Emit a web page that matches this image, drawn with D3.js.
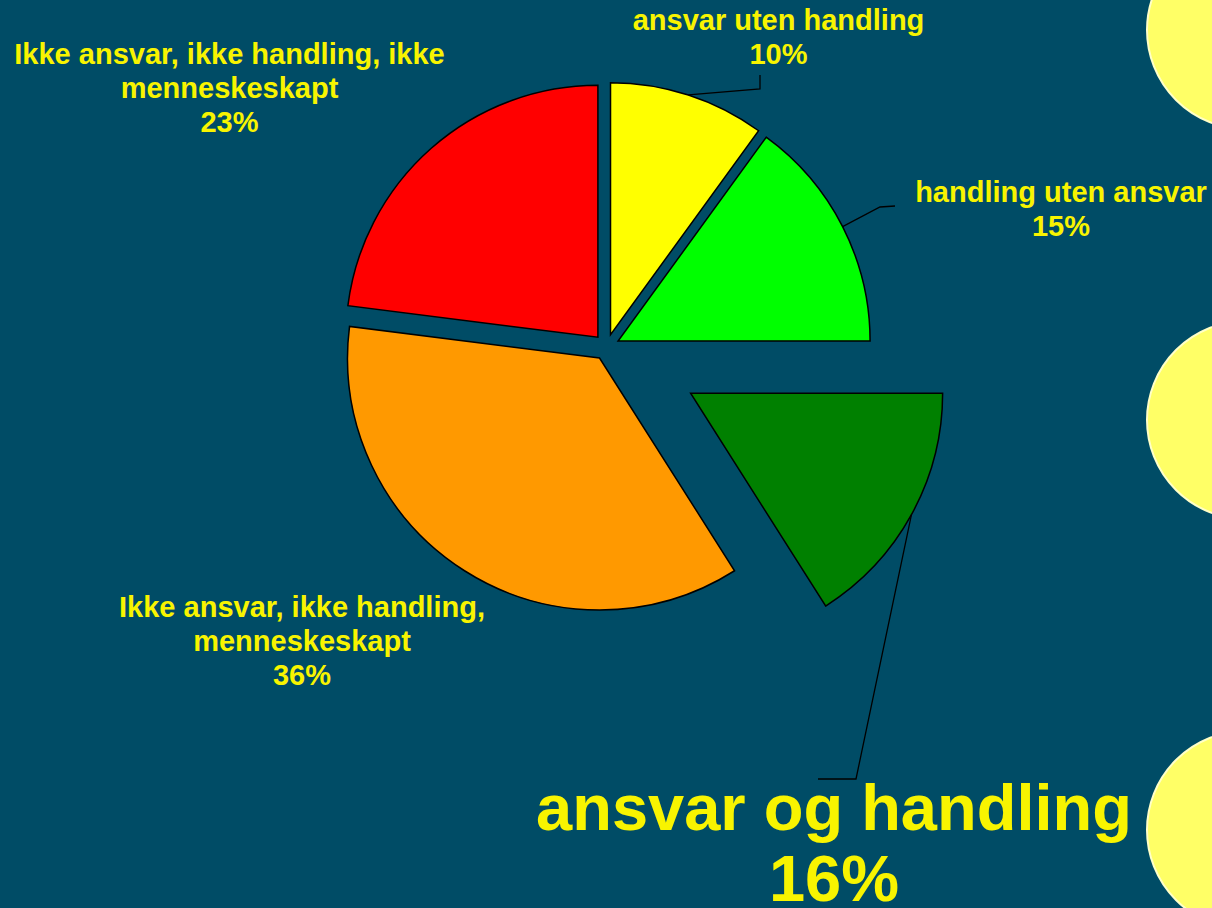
<!DOCTYPE html>
<html>
<head>
<meta charset="utf-8">
<script src="https://cdn.jsdelivr.net/npm/d3@7"></script>
<style>
  html, body { margin: 0; padding: 0; background: #004C66; overflow: hidden; }
  text { font-family: "Liberation Sans", Arial, sans-serif; font-weight: bold; }
</style>
</head>
<body>
<script>
// Share of each category (percent), clockwise from 12 o'clock
const categories = [
  "ansvar uten handling",
  "handling uten ansvar",
  "ansvar og handling",
  "Ikke ansvar, ikke handling, menneskeskapt",
  "Ikke ansvar, ikke handling, ikke menneskeskapt"
];
const values = [10, 15, 16, 36, 23];
const sliceColors = ["#FFFF00", "#00FF00", "#008000", "#FF9900", "#FF0000"];

// Layout
const W = 1212, H = 908;
const cx = 606.5, cy = 347, R = 252;
const explode = [13, 13, 96, 13, 13];
const labelLayout = [
  { x: 778.5, y: 30,  size: 29, lh: 34, wrap: 320, leader: [[760, 89], [760, 75]] },
  { x: 1061,  y: 202, size: 29, lh: 34, wrap: 320, leader: [[880, 207], [895, 206]] },
  { x: 834,   y: 830, size: 65, lh: 71, wrap: 640, leader: [[856, 779], [818, 779]] },
  { x: 302,   y: 617, size: 29, lh: 34, wrap: 380, leader: null },
  { x: 229.5, y: 64,  size: 29, lh: 34, wrap: 445, leader: null }
];
const labelColor = "#F8F400";

const svg = d3.select("body").append("svg")
  .attr("width", W).attr("height", H);

svg.append("rect").attr("width", W).attr("height", H).attr("fill", "#004C66");

// Decorative discs along the right edge
const discCenters = [30, 420, 830];
svg.selectAll("circle.disc").data(discCenters).join("circle")
  .attr("class", "disc")
  .attr("cx", 1246).attr("cy", d => d).attr("r", 99)
  .attr("fill", "#FFFF66")
  .attr("stroke", "#FFFFC8").attr("stroke-width", 2);

const pie = d3.pie().sort(null).value(d => d);
const arcs = pie(values);
const arc = d3.arc().innerRadius(0).outerRadius(R);

arcs.forEach((a, i) => {
  const m = (a.startAngle + a.endAngle) / 2;
  a.mid = m;
  a.dx = Math.sin(m) * explode[i];
  a.dy = -Math.cos(m) * explode[i];
});

const g = svg.append("g").attr("transform", `translate(${cx},${cy})`);

g.selectAll("path.slice").data(arcs).join("path")
  .attr("class", "slice")
  .attr("d", arc)
  .attr("transform", a => `translate(${a.dx},${a.dy})`)
  .attr("fill", (a, i) => sliceColors[i])
  .attr("stroke", "#000")
  .attr("stroke-width", 1.5);

// Leader lines from the slice rim to the labels
const line = d3.line();
arcs.forEach((a, i) => {
  const L = labelLayout[i];
  if (!L.leader) return;
  const sx = cx + a.dx + Math.sin(a.mid) * R;
  const sy = cy + a.dy - Math.cos(a.mid) * R;
  svg.append("path")
    .attr("d", line([[sx, sy], ...L.leader]))
    .attr("fill", "none")
    .attr("stroke", "#000")
    .attr("stroke-width", 1.3);
});

// Word-wrap helper based on measured width
function wrapWords(text, size, maxW) {
  const probe = svg.append("text").attr("font-size", size);
  const words = text.split(" ");
  const lines = [];
  let cur = "";
  words.forEach(w => {
    const trial = cur ? cur + " " + w : w;
    probe.text(trial);
    if (cur && probe.node().getComputedTextLength() > maxW) {
      lines.push(cur);
      cur = w;
    } else {
      cur = trial;
    }
  });
  if (cur) lines.push(cur);
  probe.remove();
  return lines;
}

categories.forEach((name, i) => {
  const L = labelLayout[i];
  const lines = wrapWords(name, L.size, L.wrap);
  lines.push(values[i] + "%");
  const t = svg.append("text")
    .attr("text-anchor", "middle")
    .attr("font-size", L.size)
    .attr("fill", labelColor);
  lines.forEach((ln, k) => {
    t.append("tspan")
      .attr("x", L.x)
      .attr("y", L.y + k * L.lh)
      .text(ln);
  });
});
</script>
</body>
</html>
